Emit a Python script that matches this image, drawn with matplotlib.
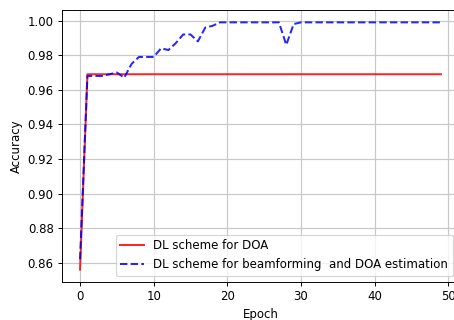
import numpy as np
import matplotlib
matplotlib.use('Agg')
import matplotlib.pyplot as plt

# Accuracy per epoch
epochs = np.arange(50)
acc_doa = [0.856] + [0.969] * 49
acc_bf_doa = [0.862, 0.968, 0.968, 0.968, 0.969, 0.970, 0.967, 0.975, 0.979, 0.979,
              0.979, 0.984, 0.983, 0.987, 0.992, 0.992, 0.988, 0.996, 0.997, 0.999,
              0.999, 0.999, 0.999, 0.999, 0.999, 0.999, 0.999, 0.999, 0.986, 0.998,
              0.999, 0.999, 0.999, 0.999, 0.999, 0.999, 0.999, 0.999, 0.999, 0.999,
              0.999, 0.999, 0.999, 0.999, 0.999, 0.999, 0.999, 0.999, 0.999, 0.999]

# reference is a scaled-down notebook figure, cropped on the right
dpi = 85
fig = plt.figure(figsize=(455 / dpi, 320 / dpi), dpi=dpi)
ax = fig.add_axes([62 / 455, 1 - 282 / 320, 397 / 455, 272 / 320])
ax.plot(epochs, acc_doa, color='red', alpha=0.85, lw=1.7, label='DL scheme for DOA')
ax.plot(epochs, acc_bf_doa, color='blue', alpha=0.85, lw=1.7, linestyle='--',
        label='DL scheme for beamforming  and DOA estimation')
ax.set_xlabel('Epoch')
ax.set_ylabel('Accuracy')
ax.set_xticks([0, 10, 20, 30, 40, 50])
ax.set_yticks(np.arange(0.86, 1.001, 0.02))
ax.grid(True, color='#c8c8c8', lw=1.0)
ax.legend(loc='lower right')
fig.savefig('out.png', dpi=dpi)
